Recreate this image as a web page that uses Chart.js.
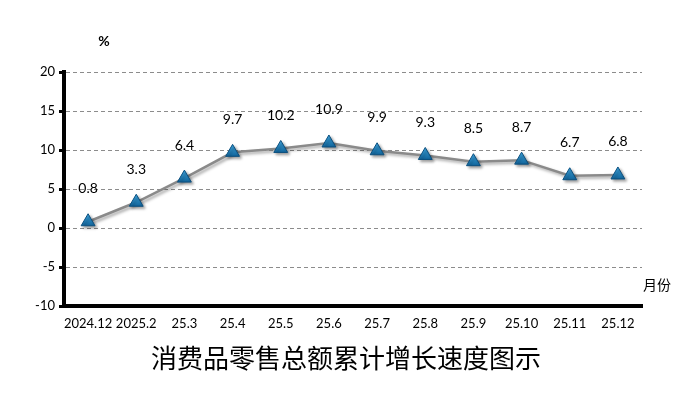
<!DOCTYPE html>
<html><head><meta charset="utf-8">
<script src="https://cdn.jsdelivr.net/npm/chart.js@4/dist/chart.umd.min.js"></script>
<style>html,body{margin:0;padding:0;background:#fff}#wrap{width:695px;height:396px;position:relative}</style>
</head><body><div id="wrap"><canvas id="c" width="695" height="396"></canvas></div>
<script>
const categories = ['2024.12','2025.2','25.3','25.4','25.5','25.6','25.7','25.8','25.9','25.10','25.11','25.12'];
const growth = [0.8, 3.3, 6.4, 9.7, 10.2, 10.9, 9.9, 9.3, 8.5, 8.7, 6.7, 6.8];
const yTicks = [-10, -5, 0, 5, 10, 15, 20];
const titleText = '消费品零售总额累计增长速度图示';
const unitText = '%';
const xUnitText = '月份';

const FONT = 'Lato, "Liberation Sans", sans-serif';

const extras = {
  id: 'extras',
  beforeDatasetDraw(chart) {
    const ctx = chart.ctx;
    ctx.save();
    ctx.shadowColor = 'rgba(0,0,0,0.35)';
    ctx.shadowOffsetX = 2; ctx.shadowOffsetY = 2; ctx.shadowBlur = 3;
  },
  afterDatasetDraw(chart) { chart.ctx.restore(); },
  afterDraw(chart) {
    const ctx = chart.ctx;
    const meta = chart.getDatasetMeta(0);
    ctx.save();
    ctx.fillStyle = '#000';
    ctx.font = '14px ' + FONT;
    ctx.textAlign = 'center';
    ctx.textBaseline = 'middle';
    meta.data.forEach((pt, i) => {
      ctx.fillText(String(growth[i]), pt.x, pt.y - 33);
    });
    ctx.font = 'bold 14px ' + FONT;
    ctx.fillText(unitText, 104, 41);
    ctx.font = '14px "Noto Sans CJK SC", sans-serif';
    ctx.textAlign = 'left';
    ctx.fillText(xUnitText, 643, 285);
    ctx.font = '26px "Noto Sans CJK SC", sans-serif';
    ctx.textAlign = 'center';
    ctx.fillText(titleText, 346, 358);
    ctx.restore();
  }
};

new Chart(document.getElementById('c'), {
  type: 'line',
  data: {
    labels: categories,
    datasets: [{
      data: growth,
      borderColor: '#8a8a8a',
      borderWidth: 2.5,
      tension: 0,
      pointStyle: 'triangle',
      pointRadius: 8,
      pointHoverRadius: 8,
      pointBackgroundColor: (c) => {
        const ctx = c.chart.ctx;
        const el = c.element;
        if (!el || el.y === undefined) return '#1f86c3';
        const g = ctx.createLinearGradient(0, el.y - 8, 0, el.y + 6);
        g.addColorStop(0, '#3ea6e0');
        g.addColorStop(1, '#0a5a90');
        return g;
      },
      pointBorderColor: '#0b4f7e',
      pointBorderWidth: 1
    }]
  },
  options: {
    responsive: false,
    animation: false,
    events: [],
    layout: { padding: { left: 0, right: 53, top: 72, bottom: 0 } },
    plugins: { legend: { display: false }, tooltip: { enabled: false } },
    scales: {
      x: {
        offset: true,
        grid: { display: false, drawTicks: false },
        border: { color: '#000', width: 4 },
        ticks: { color: '#000', font: { size: 13, family: FONT }, padding: 10, maxRotation: 0, autoSkip: false },
        afterFit(s) { s.height = 90; }
      },
      y: {
        min: -10, max: 20,
        afterBuildTicks(s) { s.ticks = yTicks.map(v => ({ value: v })); },
        grid: { color: '#8c8c8c', lineWidth: 1, drawTicks: true, tickLength: 5, tickColor: '#000', tickWidth: 3, tickBorderDash: [] },
        border: { color: '#000', width: 4, dash: [4, 3] },
        ticks: { color: '#000', font: { size: 13, family: FONT }, padding: 4 },
        afterFit(s) { s.width = 64; }
      }
    }
  },
  plugins: [extras]
});
</script>
</body></html>
